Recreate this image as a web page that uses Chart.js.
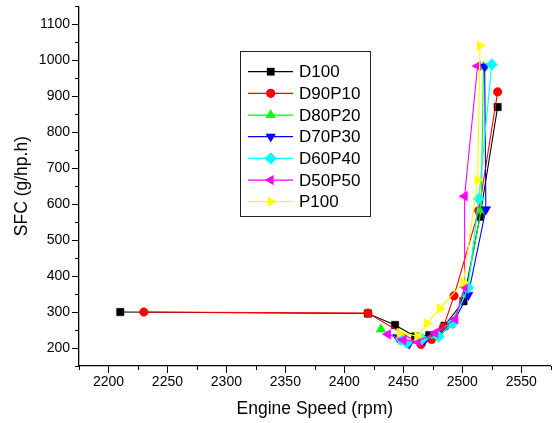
<!DOCTYPE html>
<html>
<head>
<meta charset="utf-8">
<script src="https://cdn.jsdelivr.net/npm/chart.js@4.4.1/dist/chart.umd.min.js"></script>
<style>
  html,body{margin:0;padding:0;background:#fff;}
  #wrap{width:557px;height:423px;}
</style>
</head>
<body>
<div id="wrap"><canvas id="sfcChart" width="557" height="423"></canvas></div>
<script>
// ==================== Data ====================
const seriesNames = ['D100','D90P10','D80P20','D70P30','D60P40','D50P50','P100'];

// engine speed (rpm) / SFC (g/hp.h) for each fuel blend
const d100Speed   = [2210, 2420, 2443, 2460, 2472, 2485, 2501, 2515, 2530];
const d100Sfc     = [ 300,  296,  264,  232,  236,  262,  330,  565,  870];
const d90p10Speed = [2230, 2420, 2465, 2474, 2484, 2493, 2514, 2530];
const d90p10Sfc   = [ 300,  297,  210,  224,  258,  345,  582,  912];
const d80p20Speed = [2431, 2450, 2462, 2478, 2490, 2503, 2516, 2518];
const d80p20Sfc   = [ 252,  218,  220,  235,  265,  350,  584,  982];
const d70p30Speed = [2445, 2455, 2468, 2480, 2492, 2505, 2520, 2519];
const d70p30Sfc   = [ 230,  212,  222,  238,  270,  347,  585,  982];
const d60p40Speed = [2448, 2453, 2466, 2480, 2492, 2505, 2514, 2525];
const d60p40Sfc   = [ 225,  214,  225,  232,  270,  368,  615,  988];
const d50p50Speed = [2437, 2450, 2462, 2477, 2494, 2502, 2502, 2513];
const d50p50Sfc   = [ 238,  222,  218,  242,  280,  370,  622,  984];
const p100Speed   = [2447, 2462, 2470, 2481, 2501, 2513, 2515];
const p100Sfc     = [ 242,  233,  268,  310,  382,  667, 1040];

// axis tick labels
const xTickLabels = [2200,2250,2300,2350,2400,2450,2500,2550];
const yTickLabels = [200,300,400,500,600,700,800,900,1000,1100];

// ==================== Styles ====================
const FONT = "'Liberation Sans', Arial, sans-serif";
const styles = [
  {color:'#000000', shape:'rect',     rot:0,   r:5.2},
  {color:'#ff0000', shape:'circle',   rot:0,   r:4.3},
  {color:'#00ff00', shape:'triangle', rot:0,   r:5.6},
  {color:'#0000ff', shape:'triangle', rot:180, r:5.6},
  {color:'#00ffff', shape:'rectRot',  rot:0,   r:5.8},
  {color:'#ff00ff', shape:'triangle', rot:270, r:5.6},
  {color:'#ffff00', shape:'triangle', rot:90,  r:5.6}
];
const speeds = [d100Speed,d90p10Speed,d80p20Speed,d70p30Speed,d60p40Speed,d50p50Speed,p100Speed];
const sfcs   = [d100Sfc,d90p10Sfc,d80p20Sfc,d70p30Sfc,d60p40Sfc,d50p50Sfc,p100Sfc];

// later series are painted on top (order: lower = drawn last)
const datasets = seriesNames.map((name,i)=>({
  label: name,
  data: speeds[i].map((x,j)=>({x:x, y:sfcs[i][j]})),
  order: seriesNames.length - i,
  showLine: true,
  borderColor: styles[i].color,
  backgroundColor: styles[i].color,
  borderWidth: 1.1,
  pointStyle: styles[i].shape,
  pointRotation: styles[i].rot,
  pointRadius: styles[i].r,
  pointBorderWidth: 0.5,
  pointBorderColor: styles[i].color,
  pointBackgroundColor: styles[i].color
}));

// ========================================================
// marker helper (used by the legend box)
function drawMarker(ctx,shape,rot,r,x,y){
  const rad = rot*Math.PI/180;
  ctx.beginPath();
  if(shape==='circle'){
    ctx.arc(x,y,r,0,Math.PI*2);
  } else if(shape==='rect'){
    const s = r*Math.SQRT1_2;
    ctx.rect(x-s,y-s,2*s,2*s);
  } else if(shape==='rectRot'){
    ctx.moveTo(x,y-r); ctx.lineTo(x+r,y); ctx.lineTo(x,y+r); ctx.lineTo(x-r,y);
  } else {
    let a = rad;
    ctx.moveTo(x+Math.sin(a)*r, y-Math.cos(a)*r);
    a += Math.PI*2/3;
    ctx.lineTo(x+Math.sin(a)*r, y-Math.cos(a)*r);
    a += Math.PI*2/3;
    ctx.lineTo(x+Math.sin(a)*r, y-Math.cos(a)*r);
  }
  ctx.closePath();
  ctx.fill();
}

// minor ticks (short) + legend box
const extrasPlugin = {
  id:'extras',
  afterDraw(chart){
    const ctx = chart.ctx;
    const xs = chart.scales.x, ys = chart.scales.y;
    ctx.save();
    ctx.strokeStyle = '#000';
    ctx.lineWidth = 1;
    // minor ticks
    xs.ticks.forEach(t=>{
      if(!xTickLabels.includes(t.value)){
        const px = Math.round(xs.getPixelForValue(t.value))+0.5;
        ctx.beginPath(); ctx.moveTo(px,ys.bottom); ctx.lineTo(px,ys.bottom+4); ctx.stroke();
      }
    });
    ys.ticks.forEach(t=>{
      if(!yTickLabels.includes(t.value)){
        const py = Math.round(ys.getPixelForValue(t.value))+0.5;
        ctx.beginPath(); ctx.moveTo(xs.left,py); ctx.lineTo(xs.left-4,py); ctx.stroke();
      }
    });

    // legend
    const bx=240.5, by=51.5, bw=130, bh=165;
    ctx.strokeStyle='#222';
    ctx.lineWidth=1;
    ctx.strokeRect(bx,by,bw,bh);
    ctx.font = '17px '+FONT;
    ctx.textBaseline='middle';
    ctx.textAlign='left';
    seriesNames.forEach((name,i)=>{
      const y = 71.7 + i*21.67;
      const st = styles[i];
      ctx.strokeStyle = st.color;
      ctx.lineWidth = 1.3;
      ctx.beginPath(); ctx.moveTo(248,y); ctx.lineTo(293,y); ctx.stroke();
      ctx.fillStyle = st.color;
      drawMarker(ctx,st.shape,st.rot,st.r+0.3,270.7,y);
      ctx.fillStyle = '#000';
      ctx.fillText(name,299,y+1);
    });
    ctx.restore();
  }
};

// ========================================================
new Chart(document.getElementById('sfcChart').getContext('2d'),{
  type:'scatter',
  data:{datasets:datasets},
  options:{
    responsive:false,
    animation:false,
    devicePixelRatio:1,
    layout:{padding:{top:6,right:0,left:0,bottom:0}},
    plugins:{legend:{display:false}, tooltip:{enabled:false}},
    scales:{
      x:{
        type:'linear', min:2175, max:2575,
        afterFit:s=>{ s.height=57; s.paddingLeft=0; s.paddingRight=0; },
        ticks:{
          stepSize:25, autoSkip:false, maxRotation:0, padding:1,
          color:'#000', font:{family:FONT,size:14},
          callback:v=> xTickLabels.includes(v) ? String(v) : ''
        },
        grid:{
          drawOnChartArea:false, drawTicks:true, tickLength:7,
          tickColor:c=> (c.tick && xTickLabels.includes(c.tick.value)) ? '#000' : 'rgba(0,0,0,0)'
        },
        border:{display:true,color:'#000',width:1.3},
        title:{display:true,text:'Engine Speed (rpm)',color:'#000',
               font:{family:FONT,size:17.5},padding:{top:0,bottom:3}}
      },
      y:{
        type:'linear', min:150, max:1150,
        afterFit:s=>{ s.width=79; s.paddingTop=0; s.paddingBottom=0; },
        ticks:{
          stepSize:50, autoSkip:false, padding:2,
          color:'#000', font:{family:FONT,size:14},
          callback:v=> yTickLabels.includes(v) ? String(v) : ''
        },
        grid:{
          drawOnChartArea:false, drawTicks:true, tickLength:7,
          tickColor:c=> (c.tick && yTickLabels.includes(c.tick.value)) ? '#000' : 'rgba(0,0,0,0)'
        },
        border:{display:true,color:'#000',width:1.3},
        title:{display:true,text:'SFC (g/hp.h)',color:'#000',
               font:{family:FONT,size:17.5},padding:{top:12,bottom:0}}
      }
    }
  },
  plugins:[extrasPlugin]
});
</script>
</body>
</html>
